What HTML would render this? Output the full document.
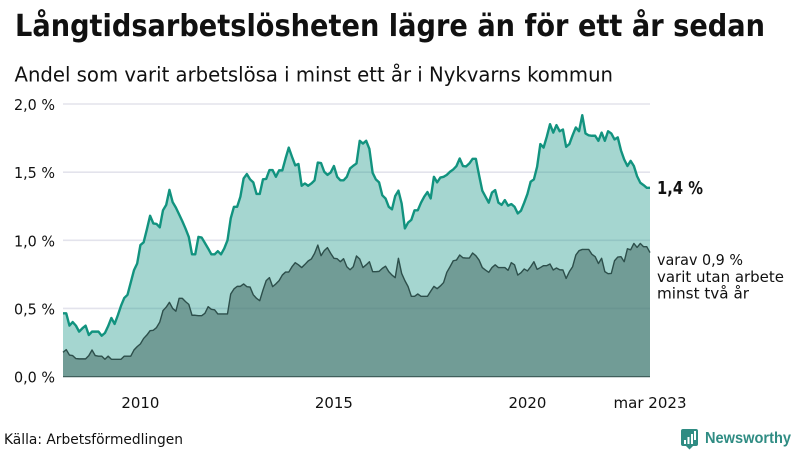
<!DOCTYPE html>
<html lang="sv">
<head>
<meta charset="utf-8">
<title>Långtidsarbetslösheten lägre än för ett år sedan</title>
<style>
html,body{margin:0;padding:0;background:#fff;width:800px;height:450px;overflow:hidden}
svg{display:block}
text{font-family:"DejaVu Sans","Liberation Sans",sans-serif;fill:#111}
</style>
</head>
<body>
<svg id="chart" xmlns="http://www.w3.org/2000/svg" width="800" height="450" viewBox="0 0 800 450">
  <text x="15" y="36" font-size="29.8" font-weight="700" textLength="750" lengthAdjust="spacingAndGlyphs">Långtidsarbetslösheten lägre än för ett år sedan</text>
  <text x="14.500" y="81.500" font-size="20.6" textLength="598.500" lengthAdjust="spacingAndGlyphs">Andel som varit arbetslösa i minst ett år i Nykvarns kommun</text>
  <g id="grid"></g>
  <g id="yticks"></g>
  <g id="xticks"></g>
  <g id="series"></g>
  <text x="657" y="194" font-size="18" font-weight="700" textLength="46" lengthAdjust="spacingAndGlyphs">1,4 %</text>
  <text x="657" y="265" font-size="15.500" textLength="86" lengthAdjust="spacingAndGlyphs">varav 0,9 %</text>
  <text x="657" y="282" font-size="15.500" textLength="127" lengthAdjust="spacingAndGlyphs">varit utan arbete</text>
  <text x="657" y="298.500" font-size="15.500" textLength="92" lengthAdjust="spacingAndGlyphs">minst två år</text>
  <text x="4" y="444" font-size="14.5" textLength="179" lengthAdjust="spacingAndGlyphs">Källa: Arbetsförmedlingen</text>
  <g>
    <path d="M683 429H696Q698 429 698 431V444Q698 446 696 446H693L689.500 449.500L686 446H683Q681 446 681 444V431Q681 429 683 429Z" fill="#2f8c83"/>
    <rect x="684" y="440" width="2" height="4" fill="#fff"/>
    <rect x="687.500" y="437" width="2" height="7" fill="#fff"/>
    <rect x="691" y="434" width="2" height="10" fill="#fff"/>
    <rect x="694" y="431" width="2" height="9" fill="#fff"/>
    <text x="705" y="443" font-size="15.500" font-weight="700" textLength="86" lengthAdjust="spacingAndGlyphs" style="font-family:'Liberation Sans',sans-serif;fill:#2f8c83">Newsworthy</text>
  </g>
</svg>
<script>
const startYear = 2008;
const totalShare = [
.464,.464,.374,.40,.374,.33,.354,.374,.305,.33,.33,.33,.30,.32,.37,.43,.386,.45,.52,.577,.60,.69,.78,.83,
.965,.985,1.08,1.18,1.124,1.12,1.095,1.22,1.26,1.37,1.28,1.24,1.19,1.14,1.085,1.025,.897,.897,1.025,1.02,.98,.94,.897,.897,
.92,.897,.94,1.0,1.16,1.246,1.246,1.32,1.454,1.486,1.447,1.425,1.34,1.34,1.447,1.45,1.515,1.515,1.466,1.513,1.513,1.60,1.68,1.613,
1.55,1.56,1.40,1.417,1.40,1.417,1.44,1.57,1.567,1.503,1.48,1.498,1.545,1.466,1.44,1.44,1.466,1.527,1.547,1.564,1.73,1.71,1.73,1.67,
1.495,1.447,1.425,1.33,1.307,1.246,1.227,1.325,1.364,1.27,1.087,1.13,1.15,1.22,1.22,1.276,1.32,1.354,1.307,1.466,1.425,1.46,1.466,1.48,
1.503,1.52,1.545,1.60,1.545,1.542,1.564,1.598,1.598,1.478,1.364,1.32,1.276,1.35,1.368,1.276,1.26,1.295,1.254,1.266,1.246,1.197,1.217,1.276,
1.34,1.43,1.447,1.54,1.706,1.68,1.76,1.852,1.79,1.845,1.80,1.813,1.686,1.706,1.77,1.828,1.80,1.918,1.784,1.77,1.767,1.767,1.73,1.79,
1.73,1.80,1.784,1.74,1.755,1.66,1.593,1.545,1.583,1.545,1.47,1.422,1.405,1.385,1.385
];
const longShare = [
.178,.198,.158,.154,.132,.13,.13,.13,.154,.195,.154,.15,.15,.127,.15,.127,.127,.127,.127,.15,.15,.15,.195,.22,
.24,.28,.305,.337,.34,.36,.40,.484,.51,.545,.50,.48,.574,.574,.55,.53,.45,.45,.447,.447,.464,.513,.494,.49,
.46,.46,.46,.46,.606,.643,.662,.662,.68,.66,.657,.60,.574,.557,.635,.704,.726,.66,.68,.704,.745,.767,.767,.806,
.836,.82,.80,.823,.848,.863,.904,.965,.887,.924,.946,.904,.868,.865,.843,.865,.806,.784,.806,.885,.863,.80,.82,.843,
.77,.77,.772,.794,.81,.77,.745,.726,.868,.757,.704,.66,.589,.589,.606,.589,.589,.589,.626,.662,.645,.665,.69,.765,
.806,.85,.855,.892,.872,.87,.87,.907,.887,.855,.80,.782,.765,.80,.82,.80,.80,.80,.78,.836,.82,.745,.762,.79,
.775,.806,.843,.787,.80,.814,.814,.826,.782,.797,.784,.782,.72,.77,.806,.892,.924,.933,.933,.933,.897,.88,.83,.868,
.77,.755,.757,.85,.877,.88,.843,.938,.93,.977,.948,.977,.953,.953,.91
];
const yTicks = [0, 0.5, 1, 1.5, 2];
const yTickLabels = ["0,0 %", "0,5 %", "1,0 %", "1,5 %", "2,0 %"];
const xTickYears = [2010, 2015, 2020];
const xTickLabels = ["2010", "2015", "2020"];
const lastTickLabel = "mar 2023";

const NS = "http://www.w3.org/2000/svg";
const plotLeft = 63, plotRight = 650, plotBase = 376.6, plotTop = 104;
const lastIndex = totalShare.length - 1;
function xScale(i) { return plotLeft + (plotRight - plotLeft) * i / lastIndex; }
function yScale(v) { return plotBase - (plotBase - plotTop) * v / 2; }
function xOfYear(y) { return xScale((y - startYear) * 12); }
function linePath(vals) { return vals.map((v, i) => (i ? "L" : "M") + xScale(i).toFixed(2) + " " + yScale(v).toFixed(2)).join(""); }
function areaPath(vals) { return linePath(vals) + "L" + xScale(vals.length - 1).toFixed(2) + " " + yScale(0) + "L" + xScale(0) + " " + yScale(0) + "Z"; }
function mk(tag, parent, attrs) {
  const el = document.createElementNS(NS, tag);
  for (const k in attrs) el.setAttribute(k, attrs[k]);
  parent.appendChild(el);
  return el;
}
const gridG = document.getElementById("grid");
const yG = document.getElementById("yticks");
const xG = document.getElementById("xticks");
const sG = document.getElementById("series");

yTicks.forEach((t, i) => {
  if (t !== 0) {
    const ln = mk("line", gridG, {x1: plotLeft, x2: plotRight, y1: yScale(t), y2: yScale(t), stroke: "#e3e3ec", "stroke-width": 1.6});
    
    
  }
  const tx = mk("text", yG, {x: 14, y: yScale(t) + 6, "font-size": 15.5, textLength: 41, lengthAdjust: "spacingAndGlyphs"});
  
  
  tx.textContent = yTickLabels[i];
});

xTickYears.forEach((y, i) => {
  const tx = mk("text", xG, {x: xOfYear(y), y: 408, "font-size": 15.5, "text-anchor": "middle", textLength: 38, lengthAdjust: "spacingAndGlyphs"});
  
  
  tx.textContent = xTickLabels[i];
});
const lastTx = mk("text", xG, {x: plotRight, y: 408, "font-size": 15.5, "text-anchor": "middle", textLength: 73, lengthAdjust: "spacingAndGlyphs"});


lastTx.textContent = lastTickLabel;

const totalArea = mk("path", sG, {d: areaPath(totalShare), fill: "#169686", "fill-opacity": 0.39});


const longArea = mk("path", sG, {d: areaPath(longShare), fill: "#4f756f", "fill-opacity": 0.6});


const baseLine = mk("line", sG, {x1: plotLeft, x2: plotRight, y1: yScale(0), y2: yScale(0), stroke: "#3f5f5b", "stroke-width": 1.2});


const longLine = mk("path", sG, {d: linePath(longShare), fill: "none", stroke: "#2d4f4b", "stroke-width": 1.4, "stroke-linejoin": "round"});


const totalLine = mk("path", sG, {d: linePath(totalShare), fill: "none", stroke: "#12937f", "stroke-width": 2.4, "stroke-linejoin": "round"});


</script>
</body>
</html>
